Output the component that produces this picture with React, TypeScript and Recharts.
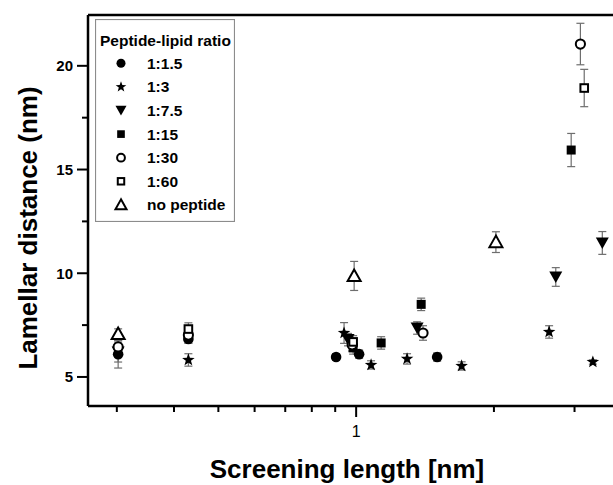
import { ScatterChart, Scatter, XAxis, YAxis, ErrorBar, ReferenceLine, Legend, Label } from 'recharts'

// [screening length (nm), lamellar distance (nm), error]
type Pt = [number, number, number]

const ratioNames = ['1:1.5', '1:3', '1:7.5', '1:15', '1:30', '1:60', 'no peptide']

const r1_1_5: Pt[] = [
  [0.302, 6.1, 0.67],
  [0.43, 6.83, 0.2],
  [0.904, 5.96, 0.15],
  [1.015, 6.1, 0.2],
  [1.503, 5.96, 0.2],
]
const r1_3: Pt[] = [
  [0.43, 5.82, 0.3],
  [0.941, 7.12, 0.5],
  [1.078, 5.58, 0.2],
  [1.292, 5.87, 0.25],
  [1.7, 5.53, 0.2],
  [2.64, 7.17, 0.3],
  [3.29, 5.72, 0.1],
]
const r1_7_5: Pt[] = [
  [0.302, 6.2, 0.48],
  [0.96, 6.8, 0.3],
  [1.359, 7.36, 0.3],
  [2.73, 9.82, 0.45],
  [3.45, 11.46, 0.55],
]
const r1_15: Pt[] = [
  [0.43, 6.93, 0.3],
  [0.985, 6.4, 0.3],
  [1.134, 6.64, 0.3],
  [1.387, 8.5, 0.3],
  [2.95, 15.94, 0.8],
]
const r1_30: Pt[] = [
  [0.302, 6.45, 0.3],
  [0.43, 7.02, 0.3],
  [0.98, 6.55, 0.3],
  [1.4, 7.12, 0.35],
  [3.09, 21.05, 1.0],
]
const r1_60: Pt[] = [
  [0.43, 7.31, 0.3],
  [0.985, 6.69, 0.3],
  [3.15, 18.93, 0.9],
]
const noPeptide: Pt[] = [
  [0.302, 7.07, 0.25],
  [0.99, 9.87, 0.7],
  [2.02, 11.5, 0.5],
]

const xTicks = [0.3, 0.4, 0.5, 0.6, 0.7, 0.8, 0.9, 1, 2, 3]
const xTickLabels = ['', '', '', '', '', '', '', '1', '', '']
const yTicks = [5, 7.5, 10, 12.5, 15, 17.5, 20]
const yTickLabels = ['5', '', '10', '', '15', '', '20']

const FONT = "'Liberation Sans', Arial, sans-serif"

type Kind = 'circle' | 'star' | 'down' | 'square' | 'openCircle' | 'openSquare' | 'openTriangle'
const kinds: Kind[] = ['circle', 'star', 'down', 'square', 'openCircle', 'openSquare', 'openTriangle']

const allSeries = [r1_1_5, r1_3, r1_7_5, r1_15, r1_30, r1_60, noPeptide].map((pts, i) => ({
  name: ratioNames[i],
  kind: kinds[i],
  data: pts.map(([x, y, err]) => ({ x, y, err })),
}))

const starPath = (cx: number, cy: number, R: number, r: number) => {
  let d = ''
  for (let i = 0; i < 10; i++) {
    const a = -Math.PI / 2 + (i * Math.PI) / 5
    const rad = i % 2 === 0 ? R : r
    d += `${i === 0 ? 'M' : 'L'}${cx + rad * Math.cos(a)},${cy + rad * Math.sin(a)}`
  }
  return d + 'Z'
}

const Marker = ({ kind, cx, cy, s = 1 }: { kind: Kind; cx: number; cy: number; s?: number }) => {
  if (cx == null || cy == null) return null
  switch (kind) {
    case 'circle':
      return <circle cx={cx} cy={cy} r={5.3 * s} fill="#000" />
    case 'star':
      return <path d={starPath(cx, cy, 6.6 * s, 2.7 * s)} fill="#000" />
    case 'down':
      return <polygon points={`${cx - 6.5 * s},${cy - 5.5 * s} ${cx + 6.5 * s},${cy - 5.5 * s} ${cx},${cy + 6 * s}`} fill="#000" />
    case 'square':
      return <rect x={cx - 4.5 * s} y={cy - 4.5 * s} width={9 * s} height={9 * s} fill="#000" />
    case 'openCircle':
      return <circle cx={cx} cy={cy} r={4.6 * s} fill="#fff" stroke="#000" strokeWidth={2} />
    case 'openSquare':
      return <rect x={cx - 3.8 * s} y={cy - 3.8 * s} width={7.6 * s} height={7.6 * s} fill="#fff" stroke="#000" strokeWidth={2} />
    default:
      return <polygon points={`${cx},${cy - 6.5 * s} ${cx - 6.5 * s},${cy + 5 * s} ${cx + 6.5 * s},${cy + 5 * s}`} fill="#fff" stroke="#000" strokeWidth={2} strokeLinejoin="miter" />
  }
}

const XTick = (props: any) => {
  const { x, y, payload } = props
  const label = xTickLabels[xTicks.indexOf(payload.value)]
  return (
    <g>
      <line x1={x} x2={x} y1={y} y2={y + (label ? 11 : 6)} stroke="#000" strokeWidth={2} />
      {label && (
        <text x={x} y={y + 31} textAnchor="middle" fontFamily={FONT} fontSize={16} fill="#000">
          {label}
        </text>
      )}
    </g>
  )
}

const YTick = (props: any) => {
  const { x, y, payload } = props
  const label = yTickLabels[yTicks.indexOf(payload.value)]
  return (
    <g>
      <line x1={x - (label ? 11 : 6)} x2={x} y1={y} y2={y} stroke="#000" strokeWidth={2} />
      {label && (
        <text x={x - 15} y={y + 5.5} textAnchor="end" fontFamily={FONT} fontWeight="bold" fontSize={15} fill="#000">
          {label}
        </text>
      )}
    </g>
  )
}

const LegendBox = () => (
  <svg width={140} height={203} style={{ display: 'block' }}>
    <rect x={0.5} y={0.5} width={139} height={202} fill="#fff" stroke="#8c8c8c" strokeWidth={1.2} />
    <text x={5} y={26.5} fontFamily={FONT} fontWeight="bold" fontSize={15.5} fill="#000">
      Peptide-lipid ratio
    </text>
    {allSeries.map((s, i) => {
      const cy = 44.3 + i * 23.6
      return (
        <g key={s.name}>
          <Marker kind={s.kind} cx={26} cy={cy} s={0.85} />
          <text x={52} y={cy + 5.4} fontFamily={FONT} fontWeight="bold" fontSize={15.5} fill="#000">
            {s.name}
          </text>
        </g>
      )
    })}
  </svg>
)

export default function App() {
  return (
    <div style={{ position: 'absolute', left: 0, top: 0, width: 613, height: 485, overflow: 'hidden', background: '#fff' }}>
      <ScatterChart width={622} height={485} margin={{ top: 15, right: 6, bottom: 0, left: 28 }}>
        <XAxis
          type="number"
          dataKey="x"
          scale="log"
          domain={[0.2595, 3.696]}
          allowDataOverflow
          ticks={xTicks}
          interval={0}
          height={79}
          tick={<XTick />}
          tickLine={false}
          tickSize={0}
          tickMargin={0}
          axisLine={{ stroke: '#000', strokeWidth: 2.5 }}
        >
          <Label
            content={() => (
              <text x={347} y={478} textAnchor="middle" fontFamily={FONT} fontWeight="bold" fontSize={26} fill="#000">
                Screening length [nm]
              </text>
            )}
          />
        </XAxis>
        <YAxis
          type="number"
          dataKey="y"
          domain={[3.6, 22.45]}
          allowDataOverflow
          ticks={yTicks}
          interval={0}
          width={60}
          tick={<YTick />}
          tickLine={false}
          tickSize={0}
          tickMargin={0}
          axisLine={{ stroke: '#000', strokeWidth: 2.5 }}
        >
          <Label
            content={() => (
              <text
                x={28}
                y={228}
                dy="0.36em"
                transform="rotate(-90 28 228)"
                textAnchor="middle"
                fontFamily={FONT}
                fontWeight="bold"
                fontSize={26}
                fill="#000"
              >
                Lamellar distance (nm)
              </text>
            )}
          />
        </YAxis>
        <ReferenceLine y={22.45} stroke="#000" strokeWidth={2.5} />
        <Legend
          layout="vertical"
          align="center"
          verticalAlign="middle"
          wrapperStyle={{ left: 95, top: 19, width: 140, height: 203 }}
          content={() => <LegendBox />}
        />
        {allSeries.map((s) => (
          <Scatter
            key={s.name}
            name={s.name}
            data={s.data}
            isAnimationActive={false}
            shape={(p: any) => <Marker kind={s.kind} cx={p.cx} cy={p.cy} />}
          >
            <ErrorBar dataKey="err" direction="y" width={4} stroke="#6e6e6e" strokeWidth={1.2} isAnimationActive={false} />
          </Scatter>
        ))}
      </ScatterChart>
    </div>
  )
}
